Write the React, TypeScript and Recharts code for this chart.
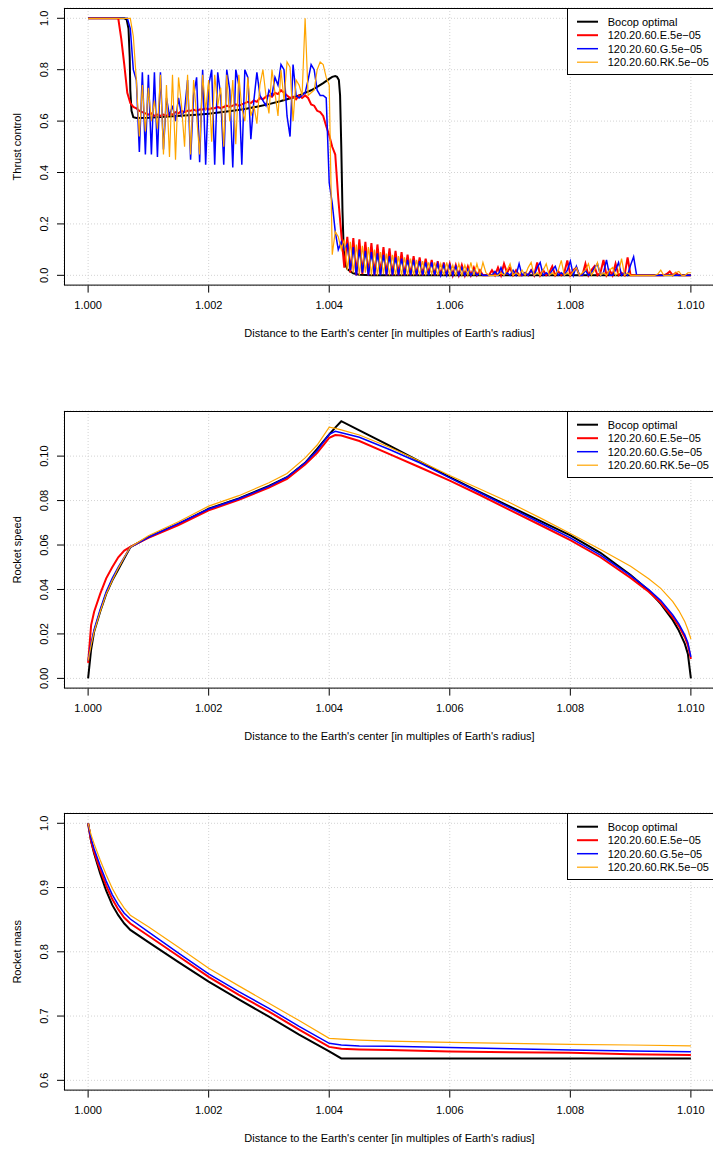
import React from "react";
import { LineChart, Line, XAxis, YAxis, CartesianGrid } from "recharts";

const FONT = "'Liberation Sans', Arial, Helvetica, sans-serif";

// shared x axis: distance to the Earth's center
const xTicks = [1.0, 1.002, 1.004, 1.006, 1.008, 1.01];
const xDomain = [0.9996, 1.0104];

const seriesNames = [
  "Bocop optimal",
  "120.20.60.E.5e\u221205",
  "120.20.60.G.5e\u221205",
  "120.20.60.RK.5e\u221205",
];
const seriesColors = ["#000000", "#ff0000", "#0000ff", "#ffa500"];
const seriesWidths = [2, 2, 1.5, 1.2];

// the three discretised runs are sampled on a 5e-05 grid (201 nodes)
const runGrid = Array.from({ length: 201 }, (_, i) => 1 + i * 0.00005);

// ---- thrust control ----
const thrustBocopX = [
  1.0, 1.0006, 1.00064, 1.00067, 1.00069, 1.0007, 1.00072, 1.00075, 1.0008, 1.001,
  1.0012, 1.0014, 1.0016, 1.0018, 1.002, 1.0022, 1.0024, 1.0026, 1.0028, 1.003,
  1.0032, 1.0034, 1.0035, 1.0036, 1.0037, 1.0038, 1.0039, 1.004, 1.00405, 1.0041,
  1.00413, 1.00416, 1.00418, 1.0042, 1.00422, 1.00424, 1.00427, 1.0043, 1.00435, 1.0044,
  1.0045, 1.0047, 1.01,
];
const thrustBocop = [
  1.0, 1.0, 0.995, 0.96, 0.85, 0.72, 0.64, 0.615, 0.612, 0.613,
  0.616, 0.619, 0.622, 0.625, 0.629, 0.634, 0.64, 0.647, 0.656, 0.666,
  0.678, 0.692, 0.7, 0.71, 0.72, 0.733, 0.748, 0.764, 0.772, 0.775,
  0.772, 0.76, 0.7, 0.5, 0.25, 0.1, 0.04, 0.025, 0.015, 0.008,
  0.002, 0, 0,
];
const thrustE = [
  1, 1, 1, 1, 1, 1, 1, 1, 1, 1,
  1, 0.92, 0.82, 0.71, 0.67, 0.655, 0.65, 0.64, 0.635, 0.63,
  0.625, 0.63, 0.62, 0.625, 0.62, 0.625, 0.62, 0.63, 0.625, 0.635,
  0.63, 0.64, 0.635, 0.64, 0.64, 0.645, 0.64, 0.645, 0.645, 0.65,
  0.645, 0.65, 0.65, 0.655, 0.65, 0.655, 0.66, 0.655, 0.66, 0.665,
  0.66, 0.665, 0.67, 0.675, 0.67, 0.68, 0.675, 0.69, 0.685, 0.695,
  0.7, 0.695, 0.71, 0.705, 0.72, 0.71, 0.7, 0.69, 0.695, 0.685,
  0.7, 0.69, 0.7, 0.69, 0.665, 0.66, 0.64, 0.635, 0.62, 0.58,
  0.545, 0.5, 0.47, 0.3, 0.16, 0.03, 0.15, 0.01, 0.145, 0,
  0.14, 0.005, 0.13, 0, 0.125, 0, 0.12, 0.005, 0.11, 0,
  0.105, 0, 0.095, 0, 0.09, 0, 0.08, 0, 0.075, 0,
  0.07, 0, 0.065, 0.005, 0.06, 0, 0.055, 0, 0.05, 0,
  0.045, 0, 0.04, 0, 0.04, 0, 0.035, 0, 0.03, 0,
  0.02, 0, 0, 0, 0.02, 0, 0.03, 0, 0.045, 0.01,
  0.03, 0, 0.02, 0, 0, 0.01, 0, 0.02, 0, 0.05,
  0, 0.02, 0, 0.01, 0.035, 0, 0.015, 0, 0.01, 0.058,
  0, 0.02, 0.03, 0, 0, 0.045, 0, 0.02, 0.035, 0,
  0.01, 0.06, 0, 0.02, 0, 0.045, 0, 0.01, 0, 0.07,
  0, 0, 0, 0, 0, 0, 0, 0, 0, 0,
  0, 0, 0.005, 0.015, 0, 0.01, 0, 0, 0, 0,
  0,
];
const thrustG = [
  1, 1, 1, 1, 1, 1, 1, 1, 1, 1,
  1, 1, 1, 1, 0.96, 0.8, 0.76, 0.48, 0.79, 0.47,
  0.78, 0.47, 0.79, 0.46, 0.79, 0.49, 0.69, 0.62, 0.66, 0.6,
  0.69, 0.62, 0.64, 0.76, 0.45, 0.7, 0.77, 0.44, 0.8, 0.43,
  0.74, 0.8, 0.43, 0.79, 0.7, 0.43, 0.8, 0.72, 0.42, 0.8,
  0.74, 0.43, 0.8, 0.77, 0.53, 0.68, 0.79, 0.7, 0.68, 0.66,
  0.72, 0.7, 0.77, 0.74, 0.82, 0.8, 0.62, 0.54, 0.82, 0.7,
  0.69, 0.7, 0.71, 0.76, 0.82, 0.8, 0.72, 0.7, 0.7, 0.69,
  0.36, 0.28, 0.17, 0.1, 0.13, 0.1, 0.12, 0.02, 0.11, 0,
  0.1, 0.01, 0.095, 0, 0.09, 0, 0.085, 0, 0.08, 0,
  0.075, 0, 0.07, 0, 0.065, 0, 0.06, 0, 0.06, 0,
  0.055, 0, 0.05, 0, 0.05, 0, 0.045, 0, 0.04, 0,
  0.04, 0, 0.035, 0, 0.03, 0, 0.025, 0, 0.02, 0,
  0.01, 0, 0, 0, 0, 0.015, 0, 0.03, 0, 0.01,
  0, 0.02, 0, 0.045, 0, 0.01, 0, 0.02, 0, 0.03,
  0.05, 0, 0.01, 0, 0.02, 0.035, 0, 0.01, 0, 0.02,
  0.055, 0, 0.035, 0, 0, 0.02, 0, 0.01, 0.03, 0.045,
  0, 0.01, 0.06, 0, 0, 0.02, 0.05, 0, 0.01, 0,
  0.04, 0.072, 0, 0, 0, 0, 0, 0, 0, 0,
  0, 0, 0, 0, 0, 0, 0, 0, 0, 0,
  0,
];
const thrustRK = [
  1, 1, 1, 1, 1, 1, 1, 1, 1, 1,
  1, 1, 1, 1, 1, 0.93, 0.76, 0.54, 0.74, 0.56,
  0.73, 0.6, 0.68, 0.57, 0.78, 0.47, 0.74, 0.46, 0.78, 0.45,
  0.77, 0.66, 0.5, 0.78, 0.47, 0.76, 0.62, 0.47, 0.78, 0.64,
  0.76, 0.52, 0.78, 0.66, 0.73, 0.5, 0.78, 0.6, 0.76, 0.51,
  0.78, 0.65, 0.6, 0.77, 0.62, 0.66, 0.59, 0.74, 0.8, 0.7,
  0.63, 0.8, 0.71, 0.62, 0.8, 0.68, 0.83, 0.81, 0.6, 0.76,
  0.74, 0.7, 1.0, 0.7, 0.71, 0.72, 0.8, 0.83, 0.82, 0.77,
  0.74, 0.08, 0.17, 0.15, 0.1, 0.14, 0.02, 0.13, 0.01, 0.12,
  0, 0.115, 0.01, 0.11, 0, 0.1, 0, 0.09, 0.005, 0.085,
  0, 0.08, 0, 0.075, 0, 0.07, 0, 0.065, 0, 0.06,
  0, 0.055, 0, 0.05, 0.005, 0.05, 0, 0.045, 0, 0.05,
  0, 0.04, 0, 0.045, 0, 0.04, 0, 0.05, 0, 0.045,
  0, 0.05, 0.01, 0, 0, 0, 0, 0.01, 0, 0.02,
  0.045, 0, 0.01, 0, 0.02, 0, 0.03, 0.05, 0, 0.01,
  0, 0.02, 0.045, 0, 0.01, 0, 0.02, 0.058, 0, 0.01,
  0, 0.015, 0.03, 0, 0.01, 0.02, 0.045, 0, 0.02, 0.05,
  0, 0.01, 0, 0.02, 0.03, 0, 0.01, 0.065, 0, 0.01,
  0, 0, 0, 0, 0, 0, 0, 0, 0, 0.005,
  0.02, 0, 0, 0, 0, 0.01, 0.015, 0, 0, 0.01,
  0.01,
];

// ---- rocket speed ----
const speedX = [
  1.0, 1.00005, 1.0001, 1.0002, 1.0003, 1.0004, 1.0005, 1.0006, 1.0007, 1.001,
  1.0015, 1.002, 1.0025, 1.003, 1.0033, 1.0036, 1.0038, 1.004, 1.0041, 1.0042,
  1.0045, 1.005, 1.0055, 1.006, 1.0065, 1.007, 1.0075, 1.008, 1.0085, 1.009,
  1.0093, 1.0095, 1.0097, 1.0098, 1.0099, 1.00995, 1.01,
];
const speedBocop = [
  0, 0.013, 0.021, 0.03, 0.038, 0.044, 0.049, 0.054, 0.059, 0.0635,
  0.0695, 0.0763, 0.081, 0.0866, 0.0905, 0.097, 0.1033, 0.1098, 0.1128, 0.1157,
  0.1116, 0.1047, 0.0976, 0.0905, 0.0838, 0.0773, 0.0709, 0.0643, 0.0565, 0.0465,
  0.0395, 0.0335, 0.0262, 0.0215, 0.0155, 0.011, 0,
];
const speedE = [
  0.007, 0.024, 0.03, 0.038, 0.045, 0.05, 0.0545, 0.0575, 0.0592, 0.0632,
  0.069, 0.0756, 0.0803, 0.0858, 0.0898, 0.0962, 0.1015, 0.1082, 0.1095, 0.1093,
  0.1068, 0.1009, 0.095, 0.089, 0.0825, 0.0757, 0.069, 0.0622, 0.0545, 0.0452,
  0.039, 0.034, 0.0275, 0.0235, 0.0185, 0.015, 0.0087,
];
const speedG = [
  0.008, 0.016, 0.022, 0.031, 0.039, 0.045, 0.05, 0.0545, 0.059, 0.0635,
  0.0697, 0.0762, 0.0808, 0.0864, 0.0905, 0.097, 0.1025, 0.1098, 0.1112, 0.1105,
  0.1085, 0.103, 0.097, 0.0902, 0.0835, 0.0767, 0.07, 0.0632, 0.0555, 0.0462,
  0.04, 0.035, 0.0285, 0.0245, 0.0195, 0.016, 0.0097,
];
const speedRK = [
  0.008, 0.015, 0.021, 0.03, 0.038, 0.044, 0.0495, 0.0545, 0.059, 0.0642,
  0.0705, 0.0775, 0.0822, 0.088, 0.0922, 0.0992, 0.105, 0.113, 0.1125, 0.1118,
  0.1095, 0.104, 0.0978, 0.0913, 0.0852, 0.079, 0.0722, 0.0652, 0.058, 0.0505,
  0.0448, 0.0405, 0.0345, 0.0305, 0.0255, 0.022, 0.0177,
];

// ---- rocket mass ----
const massX = [
  1.0, 1.00005, 1.0001, 1.0002, 1.0003, 1.0004, 1.0005, 1.0006, 1.0007, 1.001,
  1.0015, 1.002, 1.0025, 1.003, 1.0035, 1.004, 1.0042, 1.0045, 1.005, 1.006,
  1.007, 1.008, 1.009, 1.01,
];
const massBocop = [
  1.0, 0.972, 0.953, 0.922, 0.895, 0.873, 0.857, 0.844, 0.834, 0.815,
  0.784, 0.7535, 0.726, 0.699, 0.671, 0.645, 0.634, 0.634, 0.634, 0.634,
  0.634, 0.634, 0.634, 0.634,
];
const massE = [
  1.0, 0.972, 0.955, 0.928, 0.903, 0.882, 0.866, 0.853, 0.844, 0.825,
  0.793, 0.761, 0.733, 0.707, 0.679, 0.652, 0.649, 0.648, 0.647, 0.645,
  0.6435, 0.643, 0.6405, 0.6395,
];
const massG = [
  1.0, 0.976, 0.96, 0.934, 0.91, 0.889, 0.873, 0.86, 0.851, 0.831,
  0.798, 0.7655, 0.738, 0.712, 0.684, 0.6576, 0.655, 0.6535, 0.653, 0.651,
  0.649, 0.647, 0.6455, 0.6445,
];
const massRK = [
  1.0, 0.982, 0.968, 0.943, 0.92, 0.899, 0.882, 0.868, 0.857, 0.839,
  0.807, 0.7743, 0.747, 0.72, 0.693, 0.6654, 0.664, 0.6625, 0.661, 0.659,
  0.6575, 0.656, 0.655, 0.6537,
];

const toPoints = (xs: number[], ys: number[]) => xs.map((x, i) => ({ x, y: ys[i] }));

// layout of one panel (chart coordinates)
const CHART_W = 716;
const PLOT_LEFT = 64;
const PLOT_RIGHT = 715;
const PAD_TOP = 10;
const PLOT_H = 277.6;
const XAXIS_H = 62.4;
const CHART_H = PAD_TOP + PLOT_H + XAXIS_H;
const PLOT_BOTTOM = PAD_TOP + PLOT_H;

type PanelProps = {
  top: number;
  yTitle: string;
  yDomain: number[];
  yTicks: number[];
  yDigits: number;
  lines: { x: number; y: number }[][];
};

const textStyle = { fontFamily: FONT, fontSize: 11, fill: "#000" };

function Panel({ top, yTitle, yDomain, yTicks, yDigits, lines }: PanelProps) {
  const xTick = (p: any) => (
    <text
      x={p.x}
      y={PLOT_BOTTOM + 19}
      textAnchor="middle"
      dominantBaseline="central"
      style={textStyle}
    >
      {Number(p.payload.value).toFixed(3)}
    </text>
  );
  const yTick = (p: any) => (
    <text
      x={44}
      y={p.y}
      transform={`rotate(-90 44 ${p.y})`}
      textAnchor="middle"
      dominantBaseline="central"
      style={textStyle}
    >
      {Number(p.payload.value).toFixed(yDigits)}
    </text>
  );

  const legX = 567.5;
  const legY = PAD_TOP + 0.5;

  return (
    <div style={{ position: "absolute", left: 0, top: top - PAD_TOP, width: CHART_W, height: CHART_H }}>
      <LineChart
        width={CHART_W}
        height={CHART_H}
        margin={{ top: PAD_TOP, right: CHART_W - PLOT_RIGHT, bottom: 0, left: 0 }}
      >
        <CartesianGrid stroke="#d3d3d3" strokeDasharray="1 2" />
        <XAxis
          dataKey="x"
          type="number"
          domain={xDomain}
          ticks={xTicks}
          interval={0}
          allowDataOverflow
          height={XAXIS_H}
          axisLine={false}
          tickSize={7}
          tickLine={{ stroke: "#000" }}
          tick={xTick}
        />
        <YAxis
          type="number"
          domain={yDomain}
          ticks={yTicks}
          interval={0}
          allowDataOverflow
          width={PLOT_LEFT}
          axisLine={false}
          tickSize={7}
          tickLine={{ stroke: "#000" }}
          tick={yTick}
        />
        {lines.map((pts, k) => (
          <Line
            key={seriesNames[k]}
            data={pts}
            dataKey="y"
            type="linear"
            stroke={seriesColors[k]}
            strokeWidth={seriesWidths[k]}
            dot={false}
            activeDot={false}
            isAnimationActive={false}
          />
        ))}
      </LineChart>
      <svg
        width={CHART_W}
        height={CHART_H}
        style={{ position: "absolute", left: 0, top: 0, pointerEvents: "none" }}
      >
        <rect
          x={PLOT_LEFT + 0.5}
          y={PAD_TOP + 0.5}
          width={PLOT_RIGHT - PLOT_LEFT - 1}
          height={PLOT_H - 1}
          fill="none"
          stroke="#000"
          strokeWidth={1}
        />
        <text
          x={17}
          y={PAD_TOP + PLOT_H / 2}
          transform={`rotate(-90 17 ${PAD_TOP + PLOT_H / 2})`}
          textAnchor="middle"
          dominantBaseline="central"
          style={textStyle}
        >
          {yTitle}
        </text>
        <text
          x={(PLOT_LEFT + PLOT_RIGHT) / 2}
          y={PLOT_BOTTOM + 47.5}
          textAnchor="middle"
          dominantBaseline="central"
          style={textStyle}
        >
          Distance to the Earth's center [in multiples of Earth's radius]
        </text>
        <g>
          <rect x={legX} y={legY} width={150} height={66} fill="#fff" stroke="#000" strokeWidth={1} />
          {seriesNames.map((name, k) => (
            <g key={name}>
              <line
                x1={577}
                x2={598}
                y1={legY + 13.2 + k * 13.5}
                y2={legY + 13.2 + k * 13.5}
                stroke={seriesColors[k]}
                strokeWidth={seriesWidths[k]}
              />
              <text
                x={607.7}
                y={legY + 13.2 + k * 13.5}
                dominantBaseline="central"
                style={textStyle}
              >
                {name}
              </text>
            </g>
          ))}
        </g>
      </svg>
    </div>
  );
}

export default function App() {
  const thrustLines = [
    toPoints(thrustBocopX, thrustBocop),
    toPoints(runGrid, thrustE),
    toPoints(runGrid, thrustG),
    toPoints(runGrid, thrustRK),
  ];
  const speedLines = [speedBocop, speedE, speedG, speedRK].map((ys) => toPoints(speedX, ys));
  const massLines = [massBocop, massE, massG, massRK].map((ys) => toPoints(massX, ys));

  return (
    <div
      style={{
        position: "absolute",
        left: 0,
        top: 0,
        width: 713,
        height: 1149,
        overflow: "hidden",
        background: "#fff",
      }}
    >
      <Panel
        top={7.7}
        yTitle="Thrust control"
        yDomain={[-0.04, 1.04]}
        yTicks={[0, 0.2, 0.4, 0.6, 0.8, 1.0]}
        yDigits={1}
        lines={thrustLines}
      />
      <Panel
        top={410.7}
        yTitle="Rocket speed"
        yDomain={[-0.0046, 0.1203]}
        yTicks={[0, 0.02, 0.04, 0.06, 0.08, 0.1]}
        yDigits={2}
        lines={speedLines}
      />
      <Panel
        top={813.3}
        yTitle="Rocket mass"
        yDomain={[0.584, 1.016]}
        yTicks={[0.6, 0.7, 0.8, 0.9, 1.0]}
        yDigits={1}
        lines={massLines}
      />
    </div>
  );
}
